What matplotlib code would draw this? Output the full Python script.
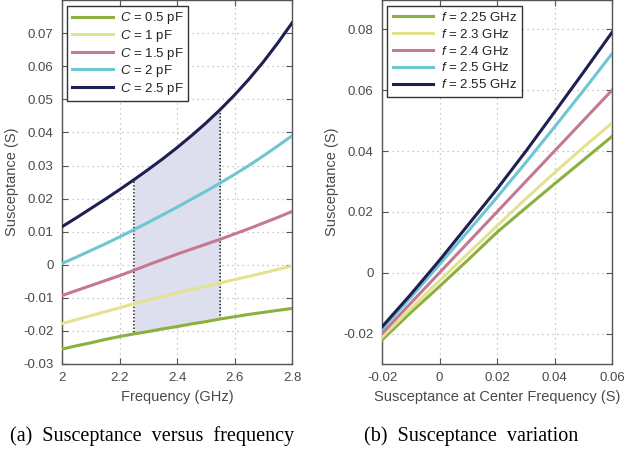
import matplotlib

matplotlib.use("Agg")
import matplotlib.pyplot as plt  # noqa: E402
import numpy as np  # noqa: E402

plt.rcParams["font.family"] = ["Liberation Sans", "DejaVu Sans"]
plt.rcParams["mathtext.fontset"] = "custom"
plt.rcParams["mathtext.it"] = "Liberation Sans:italic"
plt.rcParams["mathtext.rm"] = "Liberation Sans"

# (a) susceptance vs frequency
freq = [2.00, 2.05, 2.10, 2.15, 2.20, 2.25, 2.30, 2.35, 2.40,
        2.45, 2.50, 2.55, 2.60, 2.65, 2.70, 2.75, 2.80]
b_c05 = [-0.0255, -0.0245, -0.0236, -0.0226, -0.0217, -0.0209, -0.0202, -0.0194, -0.0187,
         -0.0179, -0.0172, -0.0164, -0.0157, -0.0150, -0.0144, -0.0138, -0.0132]
b_c10 = [-0.0178, -0.0166, -0.0154, -0.0142, -0.0130, -0.0118, -0.0107, -0.0096, -0.0085,
         -0.0075, -0.0065, -0.0055, -0.0045, -0.0035, -0.0025, -0.0014, -0.0004]
b_c15 = [-0.0093, -0.0078, -0.0063, -0.0048, -0.0033, -0.0017, 0.0000, 0.0016, 0.0032,
         0.0047, 0.0062, 0.0077, 0.0093, 0.0109, 0.0126, 0.0143, 0.0161]
b_c20 = [0.0004, 0.0023, 0.0043, 0.0063, 0.0084, 0.0106, 0.0128, 0.0151, 0.0174,
         0.0198, 0.0222, 0.0247, 0.0273, 0.0300, 0.0329, 0.0359, 0.0390]
b_c25 = [0.0115, 0.0142, 0.0170, 0.0198, 0.0227, 0.0257, 0.0288, 0.0320, 0.0354,
         0.0390, 0.0428, 0.0469, 0.0513, 0.0561, 0.0613, 0.0670, 0.0731]
c_labels = ["$C$ = 0.5 pF", "$C$ = 1 pF", "$C$ = 1.5 pF", "$C$ = 2 pF", "$C$ = 2.5 pF"]
band = (2.25, 2.55)

# (b) susceptance at other frequencies vs susceptance at center frequency
b_center = [-0.02, -0.01, 0.00, 0.01, 0.02, 0.03, 0.04, 0.05, 0.06]
b_f225 = [-0.0221, -0.0131, -0.0045, 0.0043, 0.0133, 0.0213, 0.0292, 0.0370, 0.0448]
b_f230 = [-0.0212, -0.0118, -0.0026, 0.0064, 0.0154, 0.0243, 0.0329, 0.0412, 0.0492]
b_f240 = [-0.0200, -0.0100, 0.0000, 0.0100, 0.0200, 0.0300, 0.0400, 0.0500, 0.0600]
b_f250 = [-0.0186, -0.0081, 0.0027, 0.0137, 0.0248, 0.0362, 0.0479, 0.0598, 0.0720]
b_f255 = [-0.0178, -0.0071, 0.0041, 0.0158, 0.0275, 0.0399, 0.0528, 0.0658, 0.0790]
f_labels = ["$f$ = 2.25 GHz", "$f$ = 2.3 GHz", "$f$ = 2.4 GHz", "$f$ = 2.5 GHz", "$f$ = 2.55 GHz"]

a_xticks = [2, 2.2, 2.4, 2.6, 2.8]
a_xticklabels = ["2", "2.2", "2.4", "2.6", "2.8"]
a_yticks = [-0.03, -0.02, -0.01, 0, 0.01, 0.02, 0.03, 0.04, 0.05, 0.06, 0.07]
a_yticklabels = ["-0.03", "-0.02", "-0.01", "0", "0.01", "0.02", "0.03",
                 "0.04", "0.05", "0.06", "0.07"]
b_xticks = [-0.02, 0, 0.02, 0.04, 0.06]
b_xticklabels = ["-0.02", "0", "0.02", "0.04", "0.06"]
b_yticks = [-0.02, 0, 0.02, 0.04, 0.06, 0.08]
b_yticklabels = ["-0.02", "0", "0.02", "0.04", "0.06", "0.08"]

colors = ["#8bb03f", "#e3e38f", "#c47892", "#6ec6d2", "#1e2052"]
txt = "#4a4a4a"
edge = "#555555"


def style_axes(ax):
    for s in ax.spines.values():
        s.set_color(edge)
        s.set_linewidth(1.0)
    ax.tick_params(direction="in", top=True, right=True, colors=edge,
                   labelcolor=txt, labelsize=9.5, length=4, pad=6)
    ax.grid(True, linestyle=(0, (1, 3)), color="#b8b8b8", linewidth=0.9)
    ax.set_axisbelow(True)


def style_legend(leg):
    fr = leg.get_frame()
    fr.set_edgecolor("#333333")
    fr.set_linewidth(1.0)
    fr.set_boxstyle("square", pad=0)
    for t in leg.get_texts():
        t.set_color("#222222")


fig = plt.figure(figsize=(6.24, 4.53), dpi=100)
ax1 = fig.add_axes([0.0994, 0.1965, 0.3686, 0.8025])
ax2 = fig.add_axes([0.6122, 0.1965, 0.3686, 0.8025])

# panel (a)
f = np.array(freq)
lo = np.array(b_c05)
hi = np.array(b_c25)
m = (f >= band[0] - 1e-9) & (f <= band[1] + 1e-9)
ax1.fill_between(f[m], lo[m], hi[m], color="#dddfee", linewidth=0, zorder=1)
bx = np.concatenate([f[m], f[m][::-1], f[m][:1]])
by = np.concatenate([hi[m], lo[m][::-1], hi[m][:1]])
ax1.plot(bx, by, color="black", linestyle=(0, (1, 1.5)), linewidth=1.0, zorder=2)

for ys, c, lab in zip([b_c05, b_c10, b_c15, b_c20, b_c25], colors, c_labels):
    ax1.plot(freq, ys, color=c, linewidth=2.2, label=lab, zorder=3)

ax1.set_xlim(2, 2.8)
ax1.set_ylim(-0.03, 0.0799)
ax1.set_xticks(a_xticks, a_xticklabels)
ax1.set_yticks(a_yticks, a_yticklabels)
style_axes(ax1)
ax1.set_xlabel("Frequency (GHz)", fontsize=10.5, color=txt, labelpad=4)
ax1.set_ylabel("Susceptance (S)", fontsize=10.5, color=txt, labelpad=3)
leg1 = ax1.legend(loc="upper left", fontsize=9.5, handlelength=3.1,
                  borderaxespad=0.4, labelspacing=0.12, borderpad=0.35,
                  handletextpad=0.55, fancybox=False, framealpha=1)
style_legend(leg1)

# panel (b)
for ys, c, lab in zip([b_f225, b_f230, b_f240, b_f250, b_f255], colors, f_labels):
    ax2.plot(b_center, ys, color=c, linewidth=2.2, label=lab, zorder=3)

ax2.set_xlim(-0.02, 0.06)
ax2.set_ylim(-0.03, 0.0895)
ax2.set_xticks(b_xticks, b_xticklabels)
ax2.set_yticks(b_yticks, b_yticklabels)
style_axes(ax2)
ax2.set_xlabel("Susceptance at Center Frequency (S)", fontsize=10.5, color=txt, labelpad=4)
ax2.set_ylabel("Susceptance (S)", fontsize=10.5, color=txt, labelpad=3)
leg2 = ax2.legend(loc="upper left", fontsize=9.5, handlelength=3.1,
                  borderaxespad=0.4, labelspacing=0.29, borderpad=0.4,
                  handletextpad=0.55, fancybox=False, framealpha=1)
style_legend(leg2)

# sub-captions
fig.text(0.243, 0.027, "(a)  Susceptance  versus  frequency", ha="center",
         fontsize=14.5, family=["Liberation Serif", "DejaVu Serif"], color="black")
fig.text(0.755, 0.027, "(b)  Susceptance  variation", ha="center",
         fontsize=14.5, family=["Liberation Serif", "DejaVu Serif"], color="black")

fig.savefig("out.png", dpi=100)
